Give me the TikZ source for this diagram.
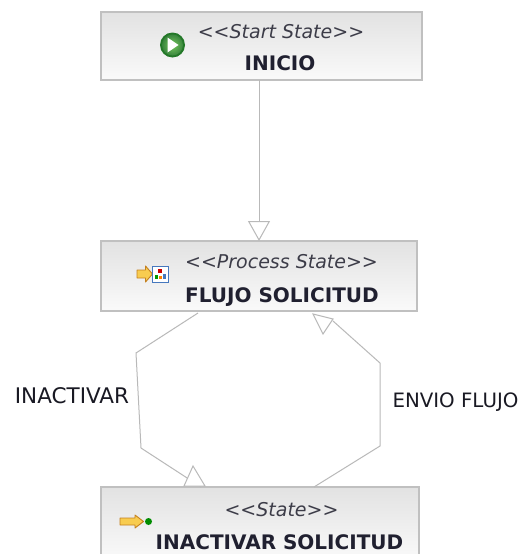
\documentclass[tikz,border=0pt]{standalone}
\usepackage{fontspec}
\setmainfont{DejaVu Sans}
\usetikzlibrary{arrows.meta}
\definecolor{boxtop}{RGB}{226,226,226}
\definecolor{boxbot}{RGB}{250,250,250}
\definecolor{boxline}{RGB}{192,192,192}
\definecolor{connline}{RGB}{185,185,185}
\definecolor{titlecol}{RGB}{60,60,72}
\definecolor{namecol}{RGB}{32,32,48}
\definecolor{labelcol}{RGB}{25,25,35}
\definecolor{arrfill}{RGB}{248,204,80}
\definecolor{arrline}{RGB}{196,128,30}
\definecolor{gdark}{RGB}{35,120,40}
\definecolor{glight}{RGB}{120,200,95}
\definecolor{winblue}{RGB}{70,120,190}
\tikzset{
  statebox/.style={draw=boxline, line width=1.5pt, top color=boxtop, bottom color=boxbot, inner sep=0pt, outer sep=0pt},
  stereo/.style={font=\fontsize{19}{22}\selectfont\itshape, text=titlecol, inner sep=0pt, anchor=base},
  sname/.style={font=\fontsize{20}{24}\selectfont\bfseries, text=namecol, inner sep=0pt, anchor=base},
  conn/.style={draw=connline, line width=1pt},
  lbl/.style={text=labelcol, inner sep=0pt, anchor=base},
  iconarrow/.style={fill=arrfill, draw=arrline, line width=0.9pt, line join=round}
}
\begin{document}
\begin{tikzpicture}[x=1pt,y=-1pt]
\useasboundingbox (0,0) rectangle (532,554);
\clip (0,0) rectangle (532,554);
\fill[white] (0,0) rectangle (532,554);

% boxes
\node[statebox, minimum width=321pt, minimum height=68pt] (start) at (261.5,46) {};
\node[statebox, minimum width=316pt, minimum height=70pt] (proc) at (259,276) {};
\node[statebox, minimum width=318pt, minimum height=74pt] (state) at (260,524) {};

% texts
\node[stereo] (startT) at (281,38) {<{}<Start State>{}>};
\node[sname] (startN) at (280,70.5) {INICIO};
\node[stereo] (procT) at (281.5,268) {<{}<Process State>{}>};
\node[sname] (procN) at (282,302) {FLUJO SOLICITUD};
\node[stereo] (stateT) at (281.5,516) {<{}<State>{}>};
\node[sname] (stateN) at (279.5,549) {INACTIVAR SOLICITUD};

% start icon
\fill[gdark] (172.5,45) circle (12.5pt);
\shade[inner color=glight, outer color=gdark!90] (172.5,45) circle (10.5pt);
\fill[white] (167.5,37.5) -- (167.5,52.5) -- (178.5,45) -- cycle;

% process icon
\path[iconarrow] (137,270) -- (145.5,270) -- (145.5,266) -- (152.5,274) -- (145.5,282) -- (145.5,278) -- (137,278) -- cycle;
\draw[winblue, fill=white, line width=1pt] (152.5,266) rectangle (168,282);
\fill[red!80!black] (158,269) rectangle (161.5,273);
\fill[green!60!black] (154.5,275) rectangle (157.5,279);
\fill[orange] (158.5,276) rectangle (161.5,279);
\fill[winblue] (163,274) rectangle (166,279);

% state icon
\path[iconarrow] (120,518) -- (135,518) -- (135,515) -- (143.5,521.5) -- (135,528) -- (135,525) -- (120,525) -- cycle;
\fill[green!55!black] (148.5,521.5) circle (3.5pt);

% connectors
\draw[conn, -{Triangle[open, length=20pt, width=22pt]}] (proc.north |- start.south) -- (proc.north);

\coordinate (i1) at (136,353);
\coordinate (i2) at (141,448);
\draw[conn] ([xshift=-61pt, yshift=-2pt]proc.south) -- (i1) -- (i2) -- ([xshift=-59pt]state.north);
\draw[conn, fill=white] (184,486) -- (193,466) -- (205,486) -- cycle;

\coordinate (e1) at (380,446);
\coordinate (e2) at (380,363);
\draw[conn] ([xshift=54pt]state.north) -- (e1) -- (e2) -- ([xshift=74pt, yshift=-10pt]proc.south);
\draw[conn, fill=white] (313,314) -- (333,319) -- (323,334) -- cycle;

% labels
\node[lbl, font=\fontsize{21.5}{24}\selectfont] (lInact) at (72,403) {INACTIVAR};
\node[lbl, font=\fontsize{19.8}{24}\selectfont] (lEnvio) at (455.5,407) {ENVIO FLUJO};
\end{tikzpicture}
\end{document}
